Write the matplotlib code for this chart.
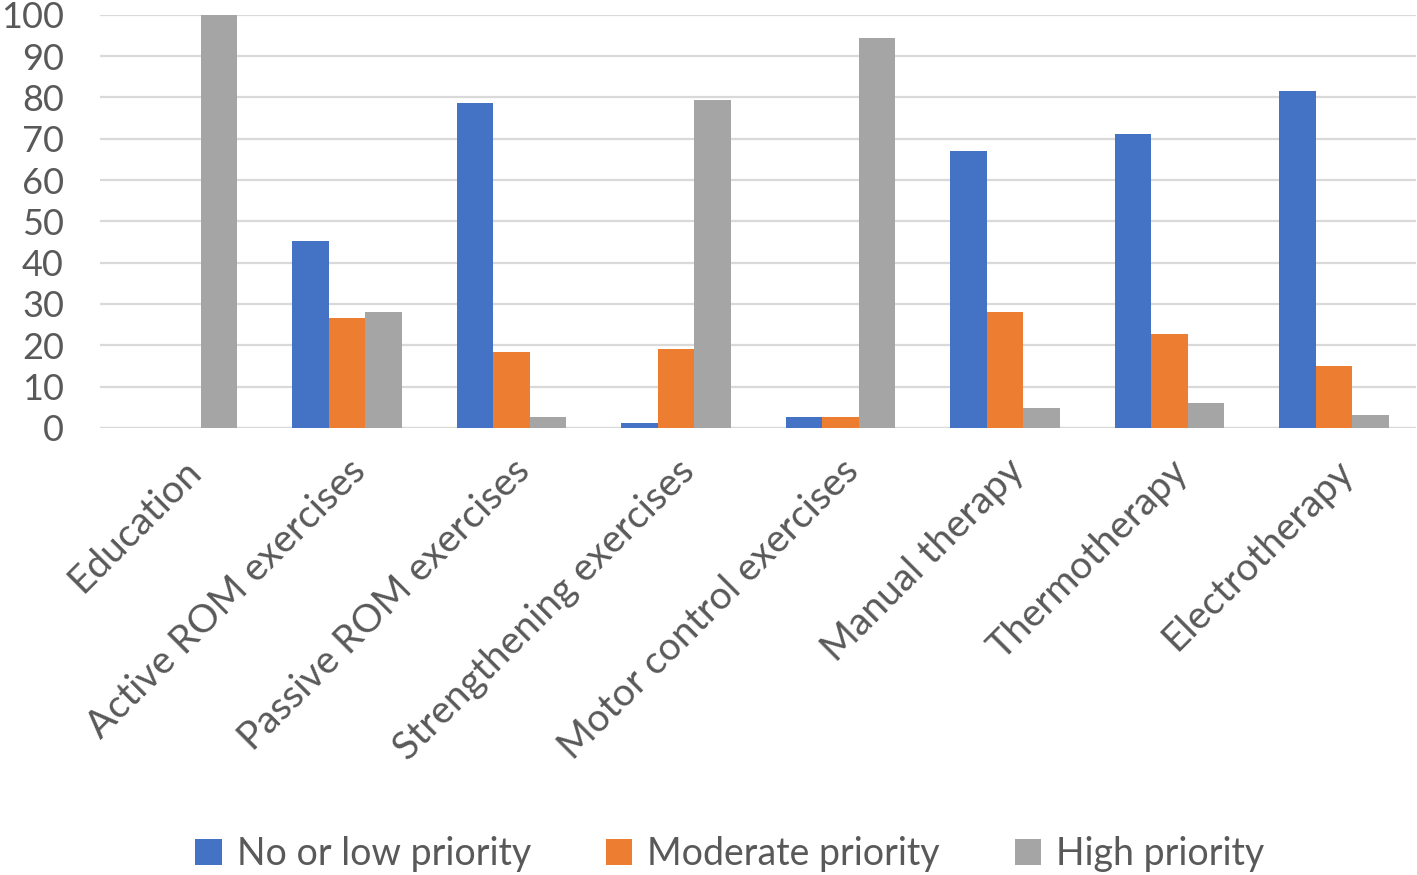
import numpy as np
import matplotlib
matplotlib.use("Agg")
import matplotlib.pyplot as plt

plt.rcParams['font.family'] = ['Lato', 'DejaVu Sans']

categories = ["Education", "Active ROM exercises", "Passive ROM exercises",
              "Strengthening exercises", "Motor control exercises",
              "Manual therapy", "Thermotherapy", "Electrotherapy"]
series_names = ["No or low priority", "Moderate priority", "High priority"]
no_low = [0, 45.2, 78.7, 1.2, 2.7, 67.0, 71.2, 81.6]
moderate = [0, 26.6, 18.4, 19.1, 2.7, 28.0, 22.7, 15.0]
high = [100, 28.0, 2.7, 79.5, 94.4, 4.8, 6.0, 3.2]
colors = ["#4472C4", "#ED7D31", "#A5A5A5"]
yticks = list(range(0, 101, 10))

fig = plt.figure(figsize=(14.17, 8.75), dpi=100)
ax = fig.add_axes([0.0706, 0.511, 0.929, 0.472])

x = np.arange(len(categories))
width = 1 / 4.5
for i, (vals, name) in enumerate(zip([no_low, moderate, high], series_names)):
    ax.bar(x + (i - 1) * width, vals, width, color=colors[i], label=name, zorder=3)

ax.set_xlim(-0.5, len(categories) - 0.5)
ax.set_ylim(0, 100)
ax.set_yticks(yticks)
ax.yaxis.grid(True, color="#D9D9D9", linewidth=1.6, zorder=0)
ax.set_axisbelow(True)
for s in ax.spines.values():
    s.set_visible(False)
ax.axhline(0, color="#D9D9D9", linewidth=1.6, zorder=1)
ax.tick_params(axis='y', length=0, labelsize=26, colors="#595959", pad=26)
ax.set_xticks(x)
ax.set_xticklabels(categories, rotation=45, ha='right', rotation_mode='anchor')
ax.tick_params(axis='x', length=0, labelsize=28, colors="#595959", pad=18)

leg = fig.legend(loc='lower center', bbox_to_anchor=(0.515, -0.035), ncol=3,
                 frameon=False, fontsize=27, handlelength=0.7, handleheight=0.7,
                 columnspacing=2.0, handletextpad=0.4, labelcolor="#595959")

fig.savefig("out.png", dpi=100)
